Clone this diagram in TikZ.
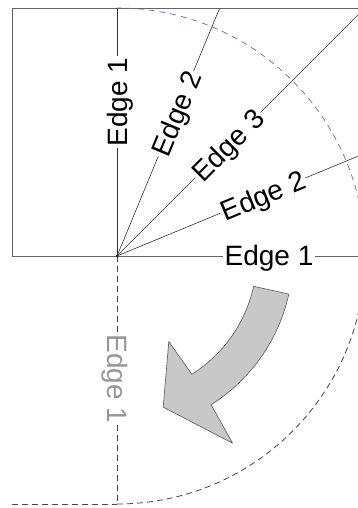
\documentclass[tikz,border=0pt]{standalone}
\usepackage{fontspec}
\setmainfont{Liberation Sans}
\definecolor{arcblue}{RGB}{100,100,205}
\definecolor{guidegray}{RGB}{70,70,70}
\definecolor{labelgray}{RGB}{150,150,150}
\definecolor{arrowfill}{RGB}{200,200,200}
\begin{document}
\begin{tikzpicture}[x=1pt,y=1pt,
  frame/.style={draw=black!60, line width=0.9pt},
  fan/.style={draw=black!80, line width=0.6pt},
  lbl/.style={font=\fontsize{28}{31}\selectfont, inner sep=1.5pt, text height=20pt, text depth=0pt},
  guide/.style={draw=guidegray, line width=0.8pt, dash pattern=on 6pt off 4pt},
  bluearc/.style={draw=arcblue, line width=0.7pt, dash pattern=on 6pt off 5pt},
  blockarrow/.style={fill=arrowfill, draw=black!65, line width=0.6pt, line join=round}]
\useasboundingbox (0,0) rectangle (358,508);
\clip (0,0) rectangle (358,508);
\coordinate (C) at (117,252);
% frame of the rectangle
\draw[frame] (420,500) -- (12,500) -- (12,252) -- (C);
\begin{scope}[shift={(C)}]
  \coordinate (T90) at (0,248);
  \coordinate (T67) at (102.7,248);
  \coordinate (T45) at (248,248);
  \coordinate (T22) at (22.5:340);
  \coordinate (T0) at (300,0);
  \coordinate (B) at (0,-248);
  \coordinate (BL) at (-105,-248);
  \coordinate (A0) at (0:248);
  \node[lbl, rotate=90] (L90) at (90:154) {Edge 1};
  \node[lbl, rotate=67.5] (L67) at (67.5:154) {Edge 2};
  \node[lbl, rotate=45] (L45) at (45:157) {Edge 3};
  \node[lbl, rotate=22.5] (L22) at (22.5:158) {Edge 2};
  \node[lbl, rotate=0] (L0) at (0:152) {Edge 1};
  \node[lbl, rotate=-90, text=labelgray] (LD) at (-90:123) {Edge 1};
  % block arrow
  \draw[blockarrow] (-12.5:140) arc[start angle=-12.5, end angle=-57.7, radius=140]
     -- (-58.8:100) -- (-73:158) -- (-58.3:220) -- (-57.7:176)
     arc[start angle=-57.7, end angle=-12.5, radius=176] -- cycle;
\end{scope}
% fan lines
\draw[fan] (C) -- (L90) -- (T90);
\draw[fan] (C) -- (L67) -- (T67);
\draw[fan] (C) -- (L45) -- (T45);
\draw[fan] (C) -- (L22) -- (T22);
\draw[frame] (C) -- (L0) -- (T0);
% dashed guides
\draw[guide] (C) -- (LD) -- (B);
\draw[guide] (BL) -- (B);
\draw[guide] (B) arc[start angle=-90, end angle=0, radius=248];
\draw[bluearc] (A0) arc[start angle=0, end angle=90, radius=248];
\fill[black] (C) circle (1.2);
\end{tikzpicture}
\end{document}
